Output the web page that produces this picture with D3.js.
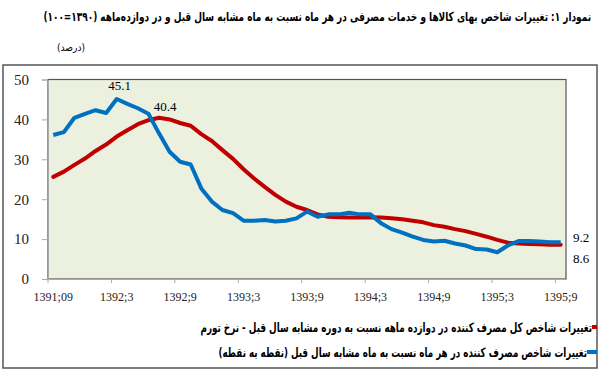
<!DOCTYPE html>
<html>
<head>
<meta charset="utf-8">
<script src="https://cdn.jsdelivr.net/npm/d3@7"></script>
<style>
  body { margin: 0; background: #fff; }
  svg { display: block; }
  .fa { direction: rtl; unicode-bidi: embed; font-family: "DejaVu Sans", sans-serif; }
</style>
</head>
<body>
<div id="chart"></div>
<script>
// months on the category axis (1391:09 .. 1395:09)
var months = [
  "1391;09","1391;10","1391;11","1391;12",
  "1392;1","1392;2","1392;3","1392;4","1392;5","1392;6","1392;7","1392;8","1392;9","1392;10","1392;11","1392;12",
  "1393;1","1393;2","1393;3","1393;4","1393;5","1393;6","1393;7","1393;8","1393;9","1393;10","1393;11","1393;12",
  "1394;1","1394;2","1394;3","1394;4","1394;5","1394;6","1394;7","1394;8","1394;9","1394;10","1394;11","1394;12",
  "1395;1","1395;2","1395;3","1395;4","1395;5","1395;6","1395;7","1395;8","1395;9"
];
var tickMonths = ["1391;09","1392;3","1392;9","1393;3","1393;9","1394;3","1394;9","1395;3","1395;9"];
var yTicks = [0, 10, 20, 30, 40, 50];

// twelve-month inflation (red)
var inflation12 = [
  25.6, 26.9, 28.6, 30.2, 32.1, 33.7, 35.7, 37.3, 38.8, 39.8, 40.4, 40.0,
  39.1, 38.4, 36.3, 34.6, 32.3, 30.1, 27.5, 25.2, 23.1, 21.1, 19.4, 18.1,
  17.3, 16.2, 15.6, 15.5, 15.4, 15.4, 15.5, 15.4, 15.2, 15.0, 14.6, 14.2,
  13.5, 13.1, 12.5, 12.0, 11.3, 10.6, 9.8, 9.1, 8.9, 8.8, 8.7, 8.6, 8.6
];
// point-to-point change (blue)
var pointToPoint = [
  36.1, 36.8, 40.4, 41.4, 42.3, 41.6, 45.1, 43.9, 42.8, 41.4, 36.5, 31.9,
  29.4, 28.7, 22.7, 19.4, 17.3, 16.5, 14.6, 14.6, 14.8, 14.4, 14.6, 15.2,
  16.9, 15.6, 16.2, 16.2, 16.6, 16.2, 16.2, 14.0, 12.5, 11.6, 10.6, 9.8,
  9.4, 9.6, 8.9, 8.4, 7.5, 7.4, 6.7, 8.4, 9.5, 9.5, 9.4, 9.2, 9.2
];

var titleText = "نمودار ۱: تغییرات شاخص بهای کالاها و خدمات مصرفی در هر ماه نسبت به ماه مشابه سال قبل و در دوازده‌ماهه (۱۳۹۰=۱۰۰)";
var legendRed = "تغییرات شاخص کل مصرف کننده در دوازده ماهه نسبت به دوره مشابه سال قبل - نرخ تورم";
var legendBlue = "تغییرات شاخص مصرف کننده در هر ماه نسبت به ماه مشابه سال قبل (نقطه به نقطه)";

var W = 600, H = 372;
var plot = {left: 48, right: 566, top: 79.5, bottom: 279};
var serif = "'Liberation Serif', serif";

var svg = d3.select("#chart").append("svg")
  .attr("width", W).attr("height", H);

svg.append("rect").attr("width", W).attr("height", H).attr("fill", "#fff");

// persian text, right edge at xr, squeezed to the width seen in the picture
function faText(str, xr, yb, size, bold, width) {
  var g = svg.append("g");
  var t = g.append("text").attr("class", "fa")
    .attr("x", 0).attr("y", 0)
    .attr("text-anchor", "start")
    .style("font-size", size + "px")
    .style("font-weight", bold ? "bold" : "normal")
    .text(str);
  var w = t.node().getComputedTextLength();
  var k = w > 0 ? width / w : 1;
  g.attr("transform", "translate(" + xr + "," + yb + ") scale(" + k + ",1)");
  return g;
}

// title
faText(titleText, 591, 21, 12.5, true, 548);

// outer frame
svg.append("rect")
  .attr("x", 3).attr("y", 65).attr("width", 594).attr("height", 303)
  .attr("fill", "none").attr("stroke", "#555").attr("stroke-width", 1.5);

faText("(درصد)", 85, 51, 10, false, 28);

var x = d3.scaleBand().domain(months).range([plot.left, plot.right]).paddingInner(0).paddingOuter(0);
var y = d3.scaleLinear().domain([0, 50]).range([plot.bottom, plot.top]);
var bw = x.bandwidth();

// plot area
svg.append("rect")
  .attr("x", plot.left).attr("y", plot.top)
  .attr("width", plot.right - plot.left).attr("height", plot.bottom - plot.top)
  .attr("fill", "#EBF1DE").attr("stroke", "#555").attr("stroke-width", 1.2);

// y axis
var yAxis = svg.append("g")
  .attr("transform", "translate(" + plot.left + ",0)")
  .call(d3.axisLeft(y).tickValues(yTicks).tickSize(6).tickPadding(13));
yAxis.select(".domain").attr("stroke", "#aaa");
yAxis.selectAll(".tick line").attr("stroke", "#aaa");
yAxis.selectAll("text")
  .style("font-family", serif).style("font-size", "15px").attr("fill", "#222");

// x axis
var xAxis = svg.append("g")
  .attr("transform", "translate(0," + plot.bottom + ")")
  .call(d3.axisBottom(x).tickValues(tickMonths).tickSize(4).tickPadding(9).tickSizeOuter(0));
xAxis.select(".domain").attr("stroke", "#aaa");
xAxis.selectAll(".tick line").attr("stroke", "#aaa").attr("x1", -bw / 2).attr("x2", -bw / 2);
xAxis.selectAll("text")
  .style("font-family", serif).style("font-size", "12px").attr("fill", "#222");

// lines
var line = function(vals) {
  return d3.line()
    .x(function(d, i) { return x(months[i]) + bw / 2; })
    .y(function(d) { return y(d); })(vals);
};

svg.append("path").attr("d", line(inflation12))
  .attr("fill", "none").attr("stroke", "#C00000").attr("stroke-width", 4)
  .attr("stroke-linejoin", "round").attr("stroke-linecap", "round");
svg.append("path").attr("d", line(pointToPoint))
  .attr("fill", "none").attr("stroke", "#0070C0").attr("stroke-width", 4)
  .attr("stroke-linejoin", "round").attr("stroke-linecap", "butt");

// data labels
var iBlue = pointToPoint.indexOf(d3.max(pointToPoint));
var iRed = inflation12.indexOf(d3.max(inflation12));
svg.append("text")
  .attr("x", x(months[iBlue]) + bw / 2 + 3).attr("y", y(pointToPoint[iBlue]) - 9)
  .attr("text-anchor", "middle").style("font-family", serif).style("font-size", "13px")
  .text(pointToPoint[iBlue].toFixed(1));
svg.append("text")
  .attr("x", x(months[iRed]) + bw / 2 + 6).attr("y", y(inflation12[iRed]) - 7)
  .attr("text-anchor", "middle").style("font-family", serif).style("font-size", "13px")
  .text(inflation12[iRed].toFixed(1));

var last = months.length - 1;
svg.append("text")
  .attr("x", 573).attr("y", y(pointToPoint[last]) - 0.5)
  .style("font-family", serif).style("font-size", "13px")
  .text(pointToPoint[last].toFixed(1));
svg.append("text")
  .attr("x", 573).attr("y", y(inflation12[last]) + 18)
  .style("font-family", serif).style("font-size", "13px")
  .text(inflation12[last].toFixed(1));

// legend
var legend = [
  {label: legendRed, color: "#C00000", y: 327, right: 592, width: 392},
  {label: legendBlue, color: "#0070C0", y: 352, right: 587, width: 369}
];
legend.forEach(function(d) {
  svg.append("line")
    .attr("x1", d.right).attr("x2", 597).attr("y1", d.y).attr("y2", d.y)
    .attr("stroke", d.color).attr("stroke-width", 4);
  faText(d.label, d.right, d.y + 4.5, 13, true, d.width);
});
</script>
</body>
</html>
